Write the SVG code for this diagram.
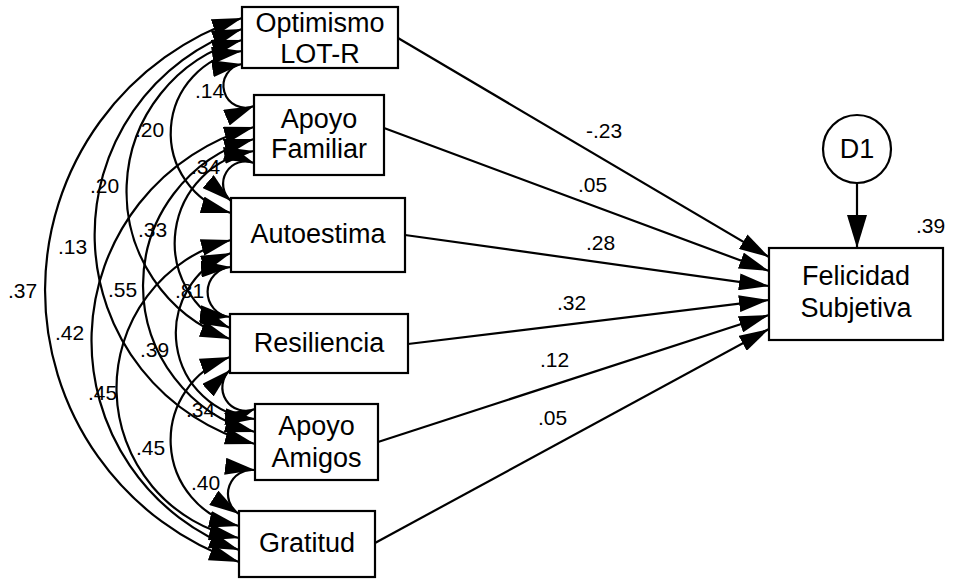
<svg xmlns="http://www.w3.org/2000/svg" width="953" height="579" viewBox="0 0 953 579">
  <style>
    .box { fill: #fff; stroke: #000; stroke-width: 2.2; }
    .ell { fill: #fff; stroke: #000; stroke-width: 2.2; }
    .name { font-family: "Liberation Sans", Arial, sans-serif; font-size: 27px; fill: #000; text-anchor: middle; }
    .coef { font-family: "Liberation Sans", Arial, sans-serif; font-size: 21px; fill: #000; }
    .path { fill: none; stroke: #000; stroke-width: 2.2; marker-end: url(#ah); }
    .cov { fill: none; stroke: #000; stroke-width: 2.2; marker-start: url(#ah); marker-end: url(#ah); }
  </style>
  <defs>
    <marker id="ah" markerUnits="userSpaceOnUse" viewBox="0 0 30 17" markerWidth="30" markerHeight="17" refX="30" refY="8.5" orient="auto-start-reverse">
      <path d="M0,0 L30,8.5 L0,17 z" fill="#000"/>
    </marker>
    <marker id="ahBig" markerUnits="userSpaceOnUse" viewBox="0 0 33 20" markerWidth="33" markerHeight="20" refX="33" refY="10" orient="auto">
      <path d="M0,0 L33,10 L0,20 z" fill="#000"/>
    </marker>
  </defs>

  <rect width="953" height="579" fill="#fff"/>

  <!-- connectors: covariances (double-headed arcs) and regression paths -->
  <g id="connectors">
    <path class="cov" d="M242,18 A287,287 0 0 0 239,562"/>
    <path class="cov" d="M242,29 A217,217 0 0 0 255,444"/>
    <path class="cov" d="M242,40 A157,157 0 0 0 230,339"/>
    <path class="cov" d="M242,51 A83,83 0 0 0 231,213"/>
    <path class="cov" d="M242,64 A22,22 0 1 0 254,106"/>
    <path class="cov" d="M254,163 A22.5,22.5 0 0 0 231,201"/>
    <path class="cov" d="M254,151 A93,93 0 0 0 230,328"/>
    <path class="cov" d="M254,139 A152,152 0 0 0 255,432"/>
    <path class="cov" d="M254,127 A222,222 0 0 0 239,550"/>
    <path class="cov" d="M231,267 A25.1,25.1 0 0 0 230,317"/>
    <path class="cov" d="M231,253 A86,86 0 0 0 255,419"/>
    <path class="cov" d="M231,240 A153,153 0 0 0 239,538"/>
    <path class="cov" d="M230,370 A23.5,23.5 0 0 0 255,409"/>
    <path class="cov" d="M230,357 A88,88 0 0 0 239,526"/>
    <path class="cov" d="M255,470 A24,24 0 0 0 239,514"/>

    <path class="path" d="M398,38 L769,257"/>
    <path class="path" d="M384,128 L769,271"/>
    <path class="path" d="M405,235 L769,286"/>
    <path class="path" d="M408,344 L769,300"/>
    <path class="path" d="M378,442 L769,315"/>
    <path class="path" d="M375,543 L769,329"/>
    <path d="M857,183 L857,248" fill="none" stroke="#000" stroke-width="2.2" marker-end="url(#ahBig)"/>

    <!-- covariance estimates -->
    <text class="coef" x="195" y="98">.14</text>
    <text class="coef" x="135" y="137">.20</text>
    <text class="coef" x="191" y="174">.34</text>
    <text class="coef" x="90" y="193">.20</text>
    <text class="coef" x="138" y="237">.33</text>
    <text class="coef" x="58" y="254">.13</text>
    <text class="coef" x="8" y="298">.37</text>
    <text class="coef" x="108" y="297">.55</text>
    <text class="coef" x="175" y="298">.81</text>
    <text class="coef" x="55" y="340">.42</text>
    <text class="coef" x="140" y="357">.39</text>
    <text class="coef" x="88" y="400">.45</text>
    <text class="coef" x="186" y="417">.34</text>
    <text class="coef" x="136" y="455">.45</text>
    <text class="coef" x="191" y="490">.40</text>

    <!-- regression weights -->
    <text class="coef" x="586" y="138">-.23</text>
    <text class="coef" x="578" y="192">.05</text>
    <text class="coef" x="586" y="250">.28</text>
    <text class="coef" x="557" y="310">.32</text>
    <text class="coef" x="540" y="367">.12</text>
    <text class="coef" x="538" y="425">.05</text>
  </g>

  <g id="optimismo">
    <rect class="box" x="242" y="7" width="156" height="61"/>
    <text class="name" x="320" y="32">Optimismo</text>
    <text class="name" x="320" y="63">LOT-R</text>
  </g>
  <g id="apoyo-familiar">
    <rect class="box" x="254" y="95" width="130" height="80"/>
    <text class="name" x="319" y="128">Apoyo</text>
    <text class="name" x="319" y="158">Familiar</text>
  </g>
  <g id="autoestima">
    <rect class="box" x="231" y="198" width="174" height="74"/>
    <text class="name" x="318" y="243">Autoestima</text>
  </g>
  <g id="resiliencia">
    <rect class="box" x="230" y="314" width="178" height="59"/>
    <text class="name" x="319" y="352">Resiliencia</text>
  </g>
  <g id="apoyo-amigos">
    <rect class="box" x="255" y="404" width="123" height="76"/>
    <text class="name" x="316.5" y="435">Apoyo</text>
    <text class="name" x="316.5" y="467">Amigos</text>
  </g>
  <g id="gratitud">
    <rect class="box" x="239" y="511" width="136" height="66"/>
    <text class="name" x="307" y="552">Gratitud</text>
  </g>
  <g id="felicidad">
    <rect class="box" x="769" y="248" width="174" height="92"/>
    <text class="name" x="856" y="285">Felicidad</text>
    <text class="name" x="856" y="317">Subjetiva</text>
    <text class="coef" x="916" y="233">.39</text>
  </g>
  <g id="d1">
    <circle class="ell" cx="857" cy="149" r="34"/>
    <text class="name" x="857" y="158">D1</text>
  </g>
</svg>
